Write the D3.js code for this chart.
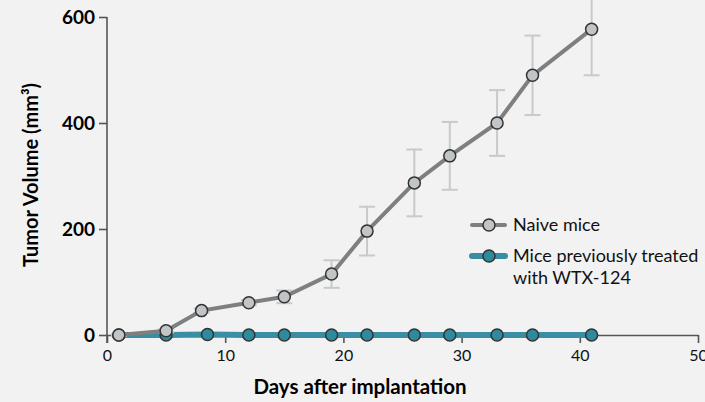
<!DOCTYPE html>
<html>
<head>
<meta charset="utf-8">
<script src="https://cdn.jsdelivr.net/npm/d3@7"></script>
<style>
  body { margin: 0; background: #f2f2f2; }
  svg { display: block; font-family: Lato, "Open Sans", sans-serif; }
</style>
</head>
<body>
<div id="chart"></div>
<script>
// days of measurement
const naiveDays = [1, 5, 8, 12, 15, 19, 22, 26, 29, 33, 36, 41];
const naiveVolume = [0, 8, 46, 61, 72, 115, 196, 287, 338, 400, 490, 577];
const naiveError = [2, 3, 4, 5, 12, 26, 46, 63, 64, 62, 75, 87];
const treatedDays = [1, 5, 8.5, 12, 15, 19, 22, 26, 29, 33, 36, 41];
const treatedVolume = [0, 0, 1, 0, 0, 0, 0, 0, 0, 0, 0, 0];
const yTicks = [0, 200, 400, 600];
const xTicks = [0, 10, 20, 30, 40, 50];
const legendLabels = [['Naive mice'], ['Mice previously treated', 'with WTX-124']];

const width = 705, height = 402;
const margin = { top: 17, right: 7, bottom: 67, left: 107 };
const innerW = width - margin.left - margin.right;
const innerH = height - margin.top - margin.bottom;

const svg = d3.select('#chart')
  .append('svg')
  .attr('width', width)
  .attr('height', height);

svg.append('rect').attr('width', width).attr('height', height).attr('fill', '#f2f2f2');

const x = d3.scaleLinear().domain([0, 50]).range([0, innerW]);
const y = d3.scaleLinear().domain([0, 600]).range([innerH, 0]);

const g = svg.append('g').attr('transform', `translate(${margin.left},${margin.top})`);

// axes
const xAxis = g.append('g')
  .attr('transform', `translate(0,${innerH})`)
  .call(d3.axisBottom(x).tickValues(xTicks).tickSize(8).tickSizeOuter(0).tickPadding(7));
xAxis.selectAll('text').attr('font-size', 16).attr('fill', '#111');

const yAxis = g.append('g')
  .call(d3.axisLeft(y).tickValues(yTicks).tickSize(8).tickSizeOuter(0).tickPadding(4));
yAxis.selectAll('text').attr('font-size', 19).attr('font-weight', 'bold').attr('fill', '#000');
yAxis.select('.domain').attr('d', `M0,0V${innerH + 8}`);

[xAxis, yAxis].forEach(a => {
  a.selectAll('.domain, line').attr('stroke', '#555').attr('stroke-width', 1.6);
  a.attr('font-family', null);
});

// titles
svg.append('text')
  .attr('x', 360)
  .attr('y', 394)
  .attr('text-anchor', 'middle')
  .attr('font-size', 20.5)
  .attr('font-weight', 'bold')
  .attr('fill', '#000')
  .text('Days after implantation');

svg.append('text')
  .attr('transform', 'translate(38,175) rotate(-90)')
  .attr('text-anchor', 'middle')
  .attr('font-size', 20)
  .attr('font-weight', 'bold')
  .attr('fill', '#000')
  .text('Tumor Volume (mm³)');

const naive = naiveDays.map((d, i) => ({ day: d, v: naiveVolume[i], e: naiveError[i] }));
const treated = treatedDays.map((d, i) => ({ day: d, v: treatedVolume[i] }));

const line = d3.line().x(d => x(d.day)).y(d => y(d.v));

// treated series
g.append('path')
  .datum(treated)
  .attr('fill', 'none')
  .attr('stroke', '#3a8da2')
  .attr('stroke-width', 6)
  .attr('d', line);

// error bars for naive
const eb = g.selectAll('.eb').data(naive).enter().append('g')
  .attr('stroke', '#c6cacb').attr('stroke-width', 2);
eb.append('line')
  .attr('x1', d => x(d.day)).attr('x2', d => x(d.day))
  .attr('y1', d => y(d.v + d.e)).attr('y2', d => y(d.v - d.e));
eb.append('line')
  .attr('x1', d => x(d.day) - 8).attr('x2', d => x(d.day) + 8)
  .attr('y1', d => y(d.v + d.e)).attr('y2', d => y(d.v + d.e));
eb.append('line')
  .attr('x1', d => x(d.day) - 8).attr('x2', d => x(d.day) + 8)
  .attr('y1', d => y(d.v - d.e)).attr('y2', d => y(d.v - d.e));

g.selectAll('.tdot').data(treated).enter().append('circle')
  .attr('cx', d => x(d.day)).attr('cy', d => y(d.v)).attr('r', 6)
  .attr('fill', '#2f8a9e').attr('stroke', '#333').attr('stroke-width', 1.5);

g.append('path')
  .datum(naive)
  .attr('fill', 'none')
  .attr('stroke', '#7f7f7f')
  .attr('stroke-width', 4)
  .attr('d', line);

g.selectAll('.ndot').data(naive).enter().append('circle')
  .attr('cx', d => x(d.day)).attr('cy', d => y(d.v)).attr('r', 6)
  .attr('fill', '#c1c5c7').attr('stroke', '#333').attr('stroke-width', 1.5);

// legend
const legend = svg.append('g').attr('transform', 'translate(472,225)');
const legendStyle = [
  { stroke: '#7f7f7f', fill: '#c1c5c7', w: 4 },
  { stroke: '#3a8da2', fill: '#2f8a9e', w: 6 }
];
legendLabels.forEach((lab, i) => {
  const row = legend.append('g').attr('transform', `translate(0,${i * 31})`);
  row.append('line').attr('x1', 0).attr('x2', 33).attr('y1', 0).attr('y2', 0)
    .attr('stroke', legendStyle[i].stroke).attr('stroke-width', legendStyle[i].w)
    .attr('stroke-linecap', 'round');
  row.append('circle').attr('cx', 17).attr('cy', 0).attr('r', 6)
    .attr('fill', legendStyle[i].fill).attr('stroke', '#333').attr('stroke-width', 1.5);
  lab.forEach((t, j) => {
    row.append('text')
      .attr('x', 41).attr('y', 6 + j * 22)
      .attr('font-size', 18).attr('fill', '#111')
      .text(t);
  });
});
</script>
</body>
</html>
